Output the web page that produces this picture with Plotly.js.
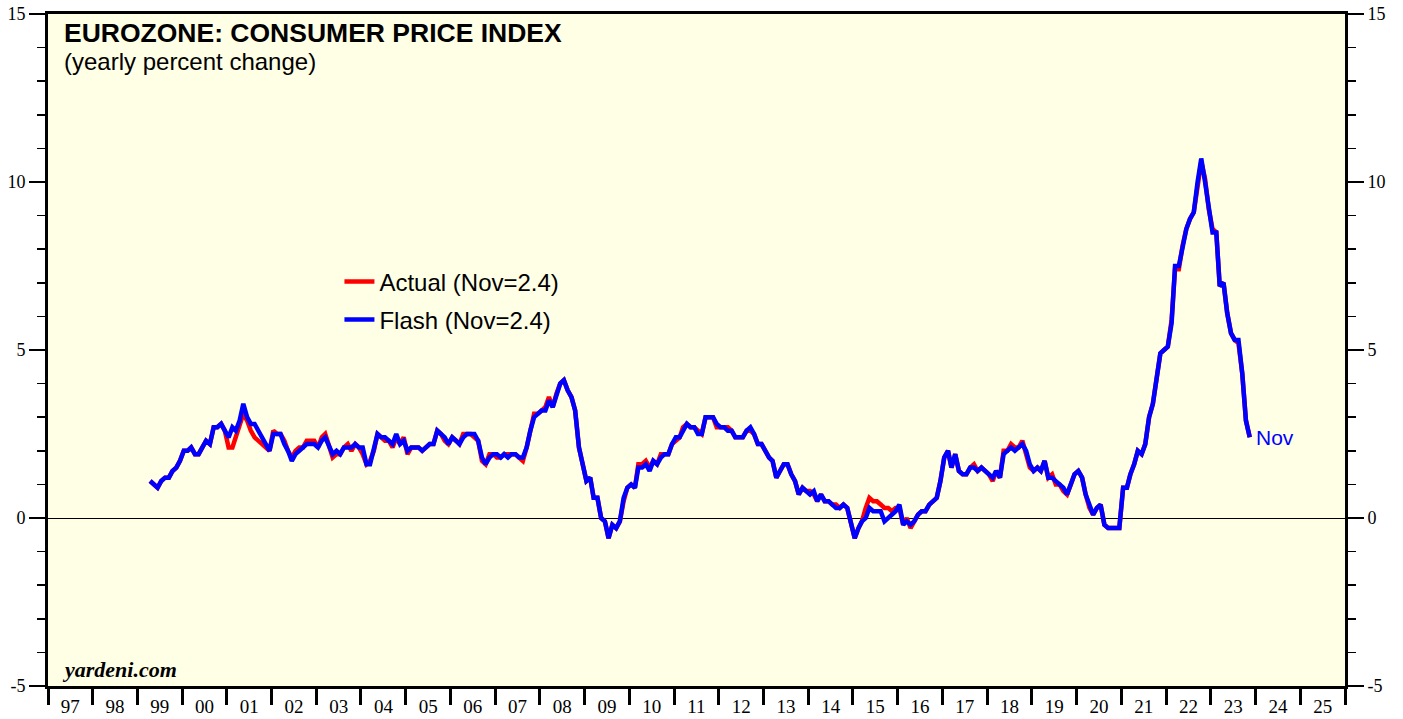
<!DOCTYPE html>
<html>
<head>
<meta charset="utf-8">
<script src="https://cdn.plot.ly/plotly-3.0.1.min.js"></script>
<style>html,body{margin:0;padding:0;background:#fff;}#chart{width:1403px;height:719px;}</style>
</head>
<body>
<div id="chart"></div>
<script>
// Monthly series start: April 1999, end: November 2023
const startYear = 1999;
const startMonth = 4;

// Actual HICP, yearly % change
const actual = [
  1.1, 1.0, 0.9, 1.1, 1.2, 1.2, 1.4, 1.5, 1.7,
  2.0, 2.0, 2.1, 1.9, 1.9, 2.1, 2.3, 2.2, 2.7, 2.7, 2.8, 2.6,
  2.1, 2.1, 2.4, 2.8, 3.1, 2.9, 2.6, 2.4, 2.3, 2.2, 2.1, 2.0,
  2.6, 2.5, 2.5, 2.3, 2.0, 1.8, 2.0, 2.1, 2.1, 2.3, 2.3, 2.3,
  2.1, 2.4, 2.5, 2.1, 1.8, 1.9, 1.9, 2.1, 2.2, 2.0, 2.2, 2.1,
  1.9, 1.6, 1.7, 2.0, 2.5, 2.4, 2.3, 2.3, 2.1, 2.4, 2.2, 2.4,
  1.9, 2.1, 2.1, 2.1, 2.0, 2.1, 2.2, 2.2, 2.6, 2.5, 2.3, 2.2,
  2.4, 2.3, 2.2, 2.5, 2.5, 2.5, 2.4, 2.3, 1.7, 1.6, 1.9, 1.9,
  1.8, 1.8, 1.9, 1.9, 1.9, 1.9, 1.8, 1.7, 2.1, 2.6, 3.1, 3.1,
  3.2, 3.3, 3.6, 3.3, 3.7, 4.0, 4.1, 3.8, 3.6, 3.2, 2.1, 1.6,
  1.1, 1.2, 0.6, 0.6, 0.0, -0.1, -0.6, -0.2, -0.3, -0.1, 0.5, 0.9,
  1.0, 0.9, 1.6, 1.6, 1.7, 1.5, 1.7, 1.6, 1.9, 1.9, 1.9, 2.2,
  2.3, 2.4, 2.7, 2.8, 2.7, 2.7, 2.6, 2.5, 3.0, 3.0, 3.0, 2.7,
  2.7, 2.7, 2.7, 2.6, 2.4, 2.4, 2.4, 2.6, 2.6, 2.5, 2.2, 2.2,
  2.0, 1.8, 1.7, 1.2, 1.4, 1.6, 1.6, 1.3, 1.1, 0.7, 0.9, 0.8,
  0.8, 0.7, 0.5, 0.7, 0.5, 0.5, 0.4, 0.4, 0.3, 0.4, 0.3, -0.2,
  -0.6, -0.3, -0.1, 0.3, 0.6, 0.5, 0.5, 0.4, 0.3, 0.3, 0.2, 0.3,
  0.3, -0.2, 0.0, -0.3, -0.1, 0.1, 0.2, 0.2, 0.4, 0.5, 0.6, 1.1,
  1.8, 2.0, 1.5, 1.9, 1.4, 1.3, 1.3, 1.5, 1.6, 1.4, 1.5, 1.4,
  1.3, 1.1, 1.4, 1.2, 2.0, 2.0, 2.2, 2.1, 2.1, 2.3, 1.9, 1.5,
  1.4, 1.5, 1.4, 1.7, 1.2, 1.3, 1.0, 1.0, 0.8, 0.7, 1.0, 1.3,
  1.4, 1.2, 0.7, 0.3, 0.1, 0.3, 0.4, -0.2, -0.3, -0.3, -0.3, -0.3,
  0.9, 0.9, 1.3, 1.6, 2.0, 1.9, 2.2, 3.0, 3.4, 4.1, 4.9, 5.0,
  5.1, 5.9, 7.4, 7.4, 8.1, 8.6, 8.9, 9.1, 9.9, 10.6, 10.1, 9.2,
  8.6, 8.5, 6.9, 7.0, 6.1, 5.5, 5.3, 5.2, 4.3, 2.9, 2.4
];

// Flash estimate, yearly % change
const flash = [
  1.1, 1.0, 0.9, 1.1, 1.2, 1.2, 1.4, 1.5, 1.7,
  2.0, 2.0, 2.1, 1.9, 1.9, 2.1, 2.3, 2.2, 2.7, 2.7, 2.8, 2.6,
  2.4, 2.7, 2.6, 2.9, 3.4, 3.0, 2.8, 2.8, 2.6, 2.4, 2.2, 2.0,
  2.5, 2.5, 2.5, 2.2, 2.0, 1.7, 1.9, 2.0, 2.1, 2.2, 2.2, 2.2,
  2.1, 2.3, 2.4, 2.1, 1.9, 2.0, 1.9, 2.1, 2.1, 2.1, 2.2, 2.1,
  2.1, 1.6, 1.6, 2.0, 2.5, 2.4, 2.4, 2.3, 2.2, 2.5, 2.2, 2.3,
  2.0, 2.1, 2.1, 2.1, 2.0, 2.1, 2.2, 2.2, 2.6, 2.5, 2.4, 2.2,
  2.4, 2.3, 2.2, 2.4, 2.5, 2.5, 2.5, 2.3, 1.8, 1.6, 1.8, 1.9,
  1.9, 1.8, 1.9, 1.8, 1.9, 1.9, 1.8, 1.8, 2.1, 2.6, 3.0, 3.1,
  3.2, 3.2, 3.5, 3.3, 3.6, 4.0, 4.1, 3.8, 3.6, 3.2, 2.1, 1.6,
  1.1, 1.2, 0.6, 0.6, 0.0, -0.1, -0.6, -0.2, -0.3, -0.1, 0.6, 0.9,
  1.0, 0.9, 1.5, 1.5, 1.6, 1.4, 1.7, 1.6, 1.8, 1.9, 1.9, 2.2,
  2.4, 2.4, 2.6, 2.8, 2.7, 2.7, 2.5, 2.5, 3.0, 3.0, 3.0, 2.8,
  2.7, 2.7, 2.6, 2.6, 2.4, 2.4, 2.4, 2.6, 2.7, 2.5, 2.2, 2.2,
  2.0, 1.8, 1.7, 1.2, 1.4, 1.6, 1.6, 1.3, 1.1, 0.7, 0.9, 0.8,
  0.7, 0.8, 0.5, 0.7, 0.5, 0.5, 0.4, 0.3, 0.3, 0.4, 0.3, -0.2,
  -0.6, -0.3, -0.1, 0.0, 0.3, 0.2, 0.2, 0.2, -0.1, 0.0, 0.1, 0.2,
  0.4, -0.2, -0.1, -0.2, -0.1, 0.1, 0.2, 0.2, 0.4, 0.5, 0.6, 1.1,
  1.8, 2.0, 1.5, 1.9, 1.4, 1.3, 1.3, 1.5, 1.5, 1.4, 1.5, 1.4,
  1.3, 1.2, 1.4, 1.2, 1.9, 2.0, 2.1, 2.0, 2.1, 2.2, 2.0, 1.6,
  1.4, 1.5, 1.4, 1.7, 1.2, 1.2, 1.1, 1.0, 0.9, 0.7, 1.0, 1.3,
  1.4, 1.2, 0.7, 0.4, 0.1, 0.3, 0.4, -0.2, -0.3, -0.3, -0.3, -0.3,
  0.9, 0.9, 1.3, 1.6, 2.0, 1.9, 2.2, 3.0, 3.4, 4.1, 4.9, 5.0,
  5.1, 5.8, 7.5, 7.5, 8.1, 8.6, 8.9, 9.1, 10.0, 10.7, 10.0, 9.2,
  8.5, 8.5, 6.9, 7.0, 6.1, 5.5, 5.3, 5.3, 4.3, 2.9, 2.4
];

const seriesNames = ['Actual (Nov=2.4)', 'Flash (Nov=2.4)'];
const lastLabel = 'Nov';
const yTickVals = [-5, 0, 5, 10, 15];
const yTickText = ['-5', '0', '5', '10', '15'];

// month dates
const dates = [];
for (let i = 0; i < flash.length; i++) {
  const t = (startMonth - 1) + i;
  const y = startYear + Math.floor(t / 12);
  const m = (t % 12) + 1;
  dates.push(y + '-' + String(m).padStart(2, '0') + '-15');
}

const serif = 'Liberation Serif, Times New Roman, serif';
const sans = 'Liberation Sans, Arial, sans-serif';

const traces = [
  {x: dates, y: actual, type: 'scatter', mode: 'lines', name: seriesNames[0],
   line: {color: '#ff0000', width: 4.5}, yaxis: 'y', legendgroup: 'a'},
  {x: dates, y: flash, type: 'scatter', mode: 'lines', name: seriesNames[1],
   line: {color: '#0000ff', width: 4.5}, yaxis: 'y2', legendgroup: 'b'}
];

const yCommon = {
  range: [-5, 15], tickvals: yTickVals, ticktext: yTickText, ticks: 'outside', ticklen: 16, tickwidth: 1.5,
  tickcolor: '#000', showgrid: false, showline: true, linewidth: 3, linecolor: '#000',
  tickfont: {family: serif, size: 18, color: '#000'},
  minor: {dtick: 1, tick0: 0, ticks: 'outside', ticklen: 8, tickwidth: 1.5, tickcolor: '#000', showgrid: false},
  fixedrange: true
};

const layout = {
  width: 1403, height: 719,
  margin: {l: 48, r: 58, t: 14, b: 33},
  paper_bgcolor: '#ffffff', plot_bgcolor: '#ffffe6',
  showlegend: true,
  legend: {x: 0.2247, xanchor: 'left', y: 0.635, yanchor: 'top', bgcolor: 'rgba(0,0,0,0)',
    font: {family: sans, size: 24, color: '#000'}, tracegroupgap: 4, itemwidth: 30},
  xaxis: {
    type: 'date', range: ['1997-01-01', '2026-01-01'],
    dtick: 'M12', tick0: '1997-01-01', tickformat: '%y', ticklabelmode: 'period',
    ticks: 'outside', ticklen: 16, tickwidth: 3, tickcolor: '#000',
    ticklabelstandoff: -15,
    tickfont: {family: serif, size: 19, color: '#000'},
    showgrid: false, zeroline: false, showline: true, linewidth: 3, linecolor: '#000', mirror: true,
    fixedrange: true
  },
  yaxis: Object.assign({}, yCommon, {side: 'left', zeroline: true, zerolinecolor: '#000', zerolinewidth: 1}),
  yaxis2: Object.assign({}, yCommon, {side: 'right', overlaying: 'y', zeroline: false}),
  annotations: [
    {xref: 'paper', yref: 'paper', x: 0.0105, y: 0.972, xanchor: 'left', yanchor: 'middle',
     text: '<b>EUROZONE: CONSUMER PRICE INDEX</b>', showarrow: false,
     font: {family: sans, size: 26.5, color: '#000'}},
    {xref: 'paper', yref: 'paper', x: 0.0105, y: 0.930, xanchor: 'left', yanchor: 'middle',
     text: '(yearly percent change)', showarrow: false,
     font: {family: sans, size: 24, color: '#000'}},
    {xref: 'paper', yref: 'paper', x: 0.0095, y: 0.024, xanchor: 'left', yanchor: 'middle',
     text: '<b><i>yardeni.com</i></b>', showarrow: false,
     font: {family: serif, size: 22, color: '#000'}},
    {xref: 'x', yref: 'y', x: dates[dates.length - 1], y: flash[flash.length - 1],
     xanchor: 'left', yanchor: 'middle', xshift: 4, text: lastLabel, showarrow: false,
     font: {family: sans, size: 21, color: '#0000ff'}}
  ]
};

Plotly.newPlot('chart', traces, layout, {staticPlot: true, displayModeBar: false});
</script>
</body>
</html>
